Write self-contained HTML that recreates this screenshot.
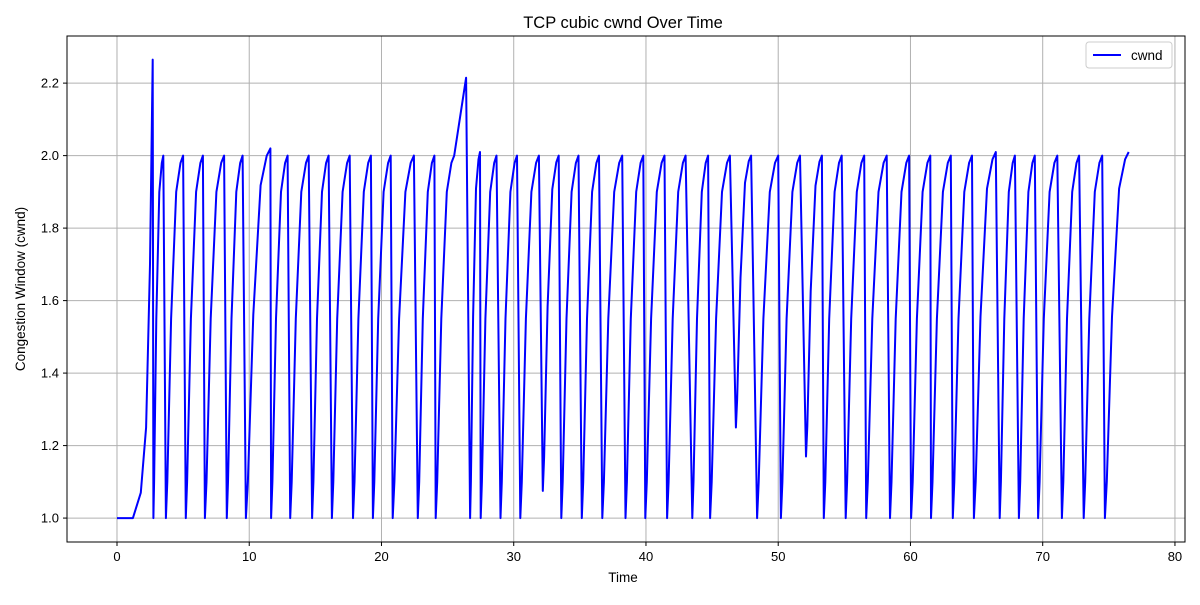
<!DOCTYPE html>
<html><head><meta charset="utf-8"><style>
body{margin:0;background:#fff;}
svg text{font-family:"Liberation Sans","DejaVu Sans",sans-serif;fill:#000;}
</style></head><body>
<svg id="chart" width="1200" height="600" viewBox="0 0 1200 600" xmlns="http://www.w3.org/2000/svg">
<rect width="1200" height="600" fill="#fff"/>
<g id="grid"></g>
<g id="ticks"></g>
<g id="series"></g>
<rect x="67" y="36" width="1118" height="506" fill="none" stroke="#000" stroke-width="1"/>
<text x="623" y="28" font-size="16.5" text-anchor="middle">TCP cubic cwnd Over Time</text>
<text x="623" y="582" font-size="13.5" text-anchor="middle">Time</text>
<text transform="translate(25,289) rotate(-90)" font-size="13.5" text-anchor="middle">Congestion Window (cwnd)</text>
<g>
<rect x="1086" y="42" width="86" height="26" rx="3" fill="#fff" stroke="#ccc"/>
<line x1="1093" y1="55" x2="1121" y2="55" stroke="#0000ff" stroke-width="2"/>
<text x="1131" y="60" font-size="13.5">cwnd</text>
</g>
</svg>
<script>
const xTicks=[0,10,20,30,40,50,60,70,80];
const yTicks=[1.0,1.2,1.4,1.6,1.8,2.0,2.2];
const startT=[0,1.2,1.8,2.2,2.5,2.7];
const startV=[1.0,1.0,1.07,1.25,1.7,2.265];
const dropT=[2.75,3.7,5.2,6.65,8.3,9.75,11.65,13.1,14.75,16.25,17.85,19.35,20.85,22.75,24.1,26.7,27.5,29.0,30.5,32.2,33.6,35.15,36.7,38.45,39.95,41.6,43.5,44.85,46.8,48.4,50.2,52.1,53.45,55.1,56.65,58.45,60.05,61.55,63.2,64.8,66.75,68.2,69.65,71.45,73.1,74.7];
const dropV=[1,1,1,1,1,1,1,1,1,1,1,1,1,1,1,1,1,1,1,1.075,1,1,1,1,1,1,1,1,1.25,1,1,1.17,1,1,1,1,1,1,1,1,1,1,1,1,1,1];
const peakT=[3.5,5.0,6.5,8.1,9.5,11.6,12.9,14.5,16.0,17.6,19.2,20.7,22.45,24.0,25.5,27.45,28.7,30.25,31.9,33.4,34.9,36.45,38.2,39.8,41.4,43.0,44.7,46.35,47.95,50.0,51.65,53.3,54.8,56.5,58.2,59.9,61.5,63.05,64.65,66.45,67.9,69.4,71.1,72.75,74.5,76.5];
const peakV=[2.0,2.0,2.0,2.0,2.0,2.02,2.0,2.0,2.0,2.0,2.0,2.0,2.0,2.0,2.0,2.01,2.0,2.0,2.0,2.0,2.0,2.0,2.0,2.0,2.0,2.0,2.0,2.0,2.0,2.0,2.0,2.0,2.0,2.0,2.0,2.0,2.0,2.0,2.0,2.01,2.0,2.0,2.0,2.0,2.0,2.01];
const extraT=[26.4];
const extraV=[2.215];
const riseF=[0.08,0.3,0.6,0.85];
const riseL=[0.1,0.55,0.9,0.98];

const X0=67,X1=1185,Y0=542,Y1=36;
const xMin=-3.78,xMax=80.76,yMin=0.934,yMax=2.33;
function sx(v){return X0+(v-xMin)/(xMax-xMin)*(X1-X0);}
function sy(v){return Y0-(v-yMin)/(yMax-yMin)*(Y0-Y1);}
const NS="http://www.w3.org/2000/svg";
const grid=document.getElementById('grid'),ticks=document.getElementById('ticks'),series=document.getElementById('series');
function mk(tag,attrs,parent){const e=document.createElementNS(NS,tag);for(const k in attrs)e.setAttribute(k,attrs[k]);parent.appendChild(e);return e;}
xTicks.forEach(t=>{
  const x=sx(t);
  const g=mk('line',{x1:x,x2:x,y1:Y1,y2:Y0,stroke:'#b0b0b0','stroke-width':1},grid);
  
  
  const tk=mk('line',{x1:x,x2:x,y1:Y0,y2:Y0+4,stroke:'#000'},ticks);
  
  
  const tx=mk('text',{x:x,y:Y0+19,'font-size':13,'text-anchor':'middle'},ticks);
  tx.textContent=String(t);
  
  
});
yTicks.forEach(t=>{
  const y=sy(t);
  const g=mk('line',{x1:X0,x2:X1,y1:y,y2:y,stroke:'#b0b0b0','stroke-width':1},grid);
  
  
  const tk=mk('line',{x1:X0-4,x2:X0,y1:y,y2:y,stroke:'#000'},ticks);
  
  
  const tx=mk('text',{x:X0-8,y:y+4.5,'font-size':13,'text-anchor':'end'},ticks);
  tx.textContent=t.toFixed(1);
  
  
});
let pts=[];
startT.forEach((t,i)=>pts.push([t,startV[i]]));
dropT.forEach((t,i)=>{
  const p=peakT[i],v0=dropV[i],v1=peakV[i];
  pts.push([t,v0]);
  riseF.forEach((f,j)=>pts.push([t+f*(p-t),v0+riseL[j]*(v1-v0)]));
  pts.push([p,v1]);
});
extraT.forEach((t,i)=>pts.push([t,extraV[i]]));
pts.sort((a,b)=>a[0]-b[0]);
const d=pts.map((p,i)=>(i?'L':'M')+sx(p[0]).toFixed(1)+','+sy(p[1]).toFixed(1)).join('');
const path=mk('path',{d:d,fill:'none',stroke:'#0000ff','stroke-width':2,'stroke-linejoin':'round'},series);


</script>
</body></html>
